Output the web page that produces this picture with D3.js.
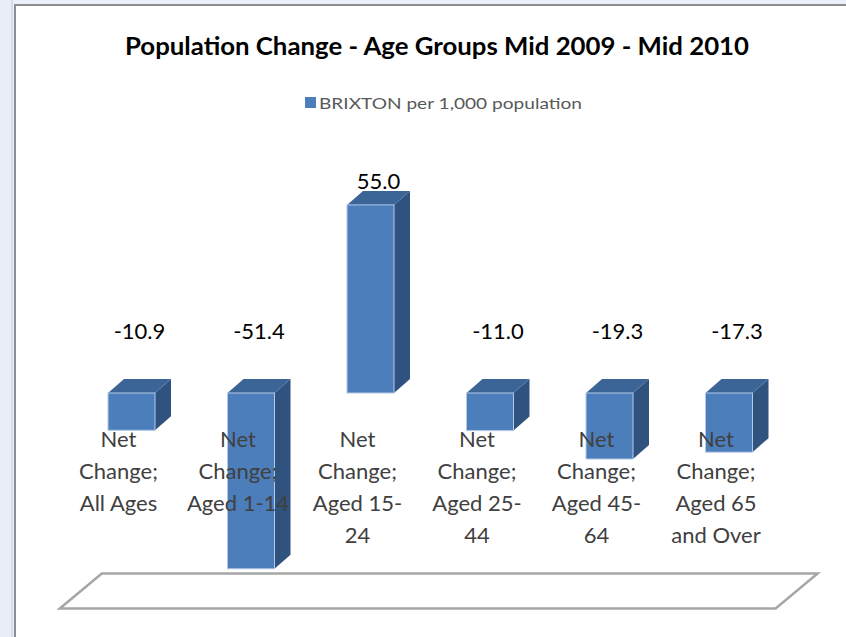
<!DOCTYPE html>
<html>
<head>
<meta charset="utf-8">
<script src="https://cdn.jsdelivr.net/npm/d3@7"></script>
<style>
  body { margin: 0; background: #fff; }
  text { font-family: Lato, 'Open Sans', sans-serif; }
</style>
</head>
<body>
<div id="chart"></div>
<script>

var categories = ['Net Change; All Ages', 'Net Change; Aged 1-14', 'Net Change; Aged 15-24',
	'Net Change; Aged 25-44', 'Net Change; Aged 45-64', 'Net Change; Aged 65 and Over']
var tickLines = [
	['Net', 'Change;', 'All Ages'],
	['Net', 'Change;', 'Aged 1-14'],
	['Net', 'Change;', 'Aged 15-', '24'],
	['Net', 'Change;', 'Aged 25-', '44'],
	['Net', 'Change;', 'Aged 45-', '64'],
	['Net', 'Change;', 'Aged 65', 'and Over']
]
var brixton = [-10.9, -51.4, 55.0, -11.0, -19.3, -17.3]
var seriesName = 'BRIXTON per 1,000 population'
var title = 'Population Change - Age Groups Mid 2009 - Mid 2010'

function makeChart(container) {
	var width = 846
	var height = 637

	var depth = { dx: 16, dy: -14 }
	var barWidth = 47

	var svg = d3.select(container).append('svg')
		.attr('width', width)
		.attr('height', height)

	// window frame round the chart
	svg.append('rect').attr('x', 0).attr('y', 0).attr('width', width).attr('height', 5).attr('fill', '#eceff8')
	svg.append('rect').attr('x', 0).attr('y', 0).attr('width', 14).attr('height', height).attr('fill', '#e9edf8')
	svg.append('line').attr('x1', 12).attr('x2', 12).attr('y1', 0).attr('y2', height)
		.attr('stroke', '#c3c8f2').attr('stroke-width', 1)
	svg.append('line').attr('x1', 15).attr('x2', 15).attr('y1', 4).attr('y2', height)
		.attr('stroke', '#8e8e8e').attr('stroke-width', 2)
	svg.append('line').attr('x1', 14).attr('x2', width).attr('y1', 5).attr('y2', 5)
		.attr('stroke', '#8e8e8e').attr('stroke-width', 2)

	var yScale = d3.scaleLinear()
		.domain([-60, 60])
		.range([598.2, 187.8])

	var xScale = d3.scalePoint()
		.domain(categories)
		.range([131.5, 729])
	var step = xScale.step()

	// floor of the 3d plot
	var floorMin = -63
	var fx0 = xScale(categories[0]) - 0.6 * step
	var fx1 = xScale(categories[categories.length - 1]) + 0.39 * step
	var fy = yScale(floorMin)
	var fdx = 42, fdy = -35
	svg.append('path')
		.attr('d', 'M' + fx0 + ',' + fy + ' L' + (fx0 + fdx) + ',' + (fy + fdy) +
			' L' + (fx1 + fdx) + ',' + (fy + fdy) + ' L' + fx1 + ',' + fy + ' Z')
		.attr('fill', '#fff')
		.attr('stroke', '#a6a6a6')
		.attr('stroke-width', 2.5)

	var bars = svg.append('g').selectAll('g').data(brixton)
		.enter().append('g')

	function top(d) { return yScale(Math.max(d, 0)) }
	function bottom(d) { return yScale(Math.min(d, 0)) }
	function left(d, i) { return xScale(categories[i]) - barWidth / 2 }

	// right side face
	bars.append('path')
		.attr('fill', '#30527f')
		.attr('d', function(d, i) {
			var x = left(d, i) + barWidth
			return 'M' + x + ',' + top(d) + ' l' + depth.dx + ',' + depth.dy +
				' V' + (bottom(d) + depth.dy) + ' l' + (-depth.dx) + ',' + (-depth.dy) + ' Z'
		})
	// top face
	bars.append('path')
		.attr('fill', '#3c6597')
		.attr('d', function(d, i) {
			var x = left(d, i)
			return 'M' + x + ',' + top(d) + ' l' + depth.dx + ',' + depth.dy +
				' h' + barWidth + ' l' + (-depth.dx) + ',' + (-depth.dy) + ' Z'
		})
	// front face
	bars.append('rect')
		.attr('x', left)
		.attr('y', top)
		.attr('width', barWidth)
		.attr('height', function(d) { return bottom(d) - top(d) })
		.attr('fill', '#4c7ebb')
		.attr('stroke', '#b4c9e6')
		.attr('stroke-width', 1)

	// category labels
	var ticks = svg.append('g')
	tickLines.forEach(function(lines, i) {
		var t = ticks.append('text')
			.attr('text-anchor', 'middle')
			.attr('font-size', 22)
			.attr('fill', '#404040')
			.attr('y', 447)
		lines.forEach(function(line, j) {
			t.append('tspan')
				.attr('x', xScale(categories[i]) - 13)
				.attr('dy', j == 0 ? 0 : 32)
				.text(line)
		})
	})

	// value labels
	svg.append('g').selectAll('text').data(brixton)
		.enter().append('text')
			.attr('text-anchor', 'middle')
			.attr('font-size', 22)
			.attr('fill', '#000')
			.attr('x', function(d, i) { return xScale(categories[i]) + depth.dx / 2 })
			.attr('y', function(d) { return d >= 0 ? top(d) - 16 : yScale(0) - 54 })
			.text(function(d) { return d.toFixed(1) })

	// title
	svg.append('text')
		.attr('x', 437)
		.attr('y', 55)
		.attr('text-anchor', 'middle')
		.attr('font-size', 24)
		.attr('font-weight', 'bold')
		.attr('fill', '#000')
		.attr('textLength', 624)
		.attr('lengthAdjust', 'spacingAndGlyphs')
		.text(title)

	// legend
	var legend = svg.append('g')
	legend.append('rect')
		.attr('x', 305).attr('y', 97)
		.attr('width', 11).attr('height', 11)
		.attr('fill', '#4c7ebb')
	legend.append('text')
		.attr('x', 319)
		.attr('y', 109)
		.attr('font-size', 16)
		.attr('fill', '#595959')
		.attr('textLength', 263)
		.attr('lengthAdjust', 'spacingAndGlyphs')
		.text(seriesName)
}

makeChart(document.getElementById('chart'))
</script>
</body>
</html>
